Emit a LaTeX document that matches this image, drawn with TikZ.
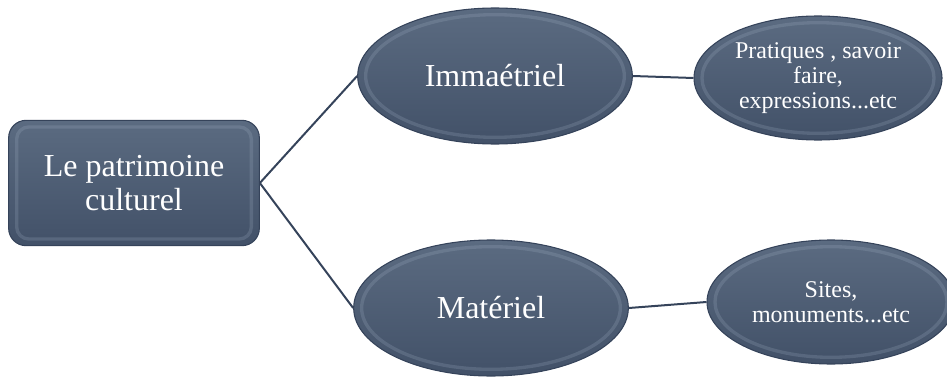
\documentclass[tikz,border=0pt]{standalone}
\usepackage{fontspec}
\setmainfont{Liberation Serif}
\usetikzlibrary{shapes.geometric,calc}
\definecolor{slatetop}{HTML}{5B6B81}
\definecolor{slatebot}{HTML}{425168}
\definecolor{slateline}{HTML}{35435A}
\definecolor{slaterim}{HTML}{A3B2C6}
\newcommand{\bigtxt}{\fontsize{24}{25}\selectfont}
\newcommand{\smalltxt}{\fontsize{18}{19}\selectfont}
\tikzset{
  box/.style={draw=slateline,line width=0.8pt,top color=slatetop,bottom color=slatebot,
    text=white,align=center,inner sep=0pt},
  rim/.style={draw=slaterim,line width=2.5pt,opacity=0.22},
  ellrim/.style={path picture={\draw[rim] let \p1=(path picture bounding box.north east),
    \p2=(path picture bounding box.center) in (\p2) ellipse ({\x1-\x2-6pt} and {\y1-\y2-5pt});}},
  rootbox/.style={box,rectangle,rounded corners=13pt,minimum width=188pt,minimum height=94pt,font=\bigtxt,
    path picture={\draw[rim,rounded corners=9pt] ([shift={(6pt,-5pt)}]path picture bounding box.north west)
    rectangle ([shift={(-6pt,5pt)}]path picture bounding box.south east);}},
  midell/.style={box,ellipse,ellrim,minimum width=206pt,minimum height=102pt,font=\bigtxt},
  leafell/.style={box,ellipse,ellrim,minimum width=186pt,minimum height=93pt,font=\smalltxt},
  conn/.style={draw=slateline,line width=1.5pt}
}
\begin{document}
\begin{tikzpicture}[x=0.75pt,y=0.75pt]
\useasboundingbox (0,0) rectangle (947,376);
\node[rootbox] (PC) at (134,193) {Le patrimoine\\culturel};
\node[midell] (Imm) at (495,300) {Immaétriel};
\node[midell] (Mat) at (491,68) {Matériel};
\node[leafell] (Prat) at (818,298) {Pratiques , savoir\\faire,\\expressions...etc};
\node[leafell] (Sites) at (831,74) {Sites,\\monuments...etc};
 \draw[conn] (PC.east) -- (Imm.west);
 \draw[conn] (PC.east) -- (Mat.west);
 \draw[conn] (Imm.east) -- (Prat.west);
 \draw[conn] (Mat.east) -- (Sites.west);
\end{tikzpicture}
\end{document}
